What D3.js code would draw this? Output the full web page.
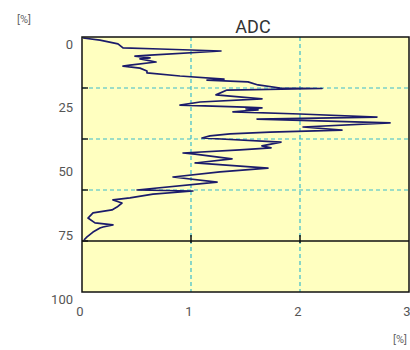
<!DOCTYPE html>
<html><head><meta charset="utf-8">
<script src="https://cdn.jsdelivr.net/npm/d3@7"></script>
<style>body{margin:0;background:#fff;}svg{display:block;font-family:Roboto,"Liberation Sans",sans-serif;}</style>
</head><body><svg id="c" width="410" height="350"></svg>
<script>
const title = "ADC";
const unitLabel = "[%]";
const xTicks = [0, 1, 2, 3];
const yTicks = [0, 25, 50, 75, 100];
const xGrid = [1, 2];
const yGrid = [20, 40, 60];
const refDepth = 80;
const adc = [0.01,0.165,0.33,0.376,0.716,1.275,0.624,0.486,0.624,0.532,0.679,0.44,0.376,0.532,0.596,0.596,0.899,1.303,1.147,1.358,1.523,1.615,1.817,2.202,1.33,1.229,1.651,1.083,0.899,1.495,1.651,1.505,1.615,1.385,2.0,2.706,1.606,2.826,2.028,2.385,1.725,1.358,1.174,1.101,1.826,1.651,1.734,1.45,0.927,1.037,1.376,1.037,1.706,1.266,0.835,1.239,0.505,1.018,0.651,0.44,0.284,0.367,0.321,0.275,0.101,0.055,0.119,0.284,0.193,0.165,0.101,0.046,0.018];
const depth = [0.4,1.2,2.7,4.3,4.7,5.5,7.1,7.5,8.2,8.6,9.8,11.0,11.4,12.2,13.3,14.1,15.3,16.5,16.9,17.3,17.6,18.8,20.0,20.2,20.8,22.7,24.3,25.5,26.7,27.5,27.8,28.2,28.6,29.4,30.2,31.4,32.2,33.7,35.3,36.5,37.3,38.0,38.8,39.6,41.2,42.7,43.5,44.3,45.5,45.9,47.8,49.4,51.4,52.9,54.9,56.9,60.0,60.4,61.6,63.1,63.9,65.1,66.7,67.8,69.0,71.0,72.9,73.7,74.5,74.9,76.5,78.4,79.6];

const L = 82, R = 409, T = 37, B = 292;
const x = d3.scaleLinear().domain([0, 3]).range([L, R]);
const y = d3.scaleLinear().domain([0, 100]).range([T, B]);
const svg = d3.select("#c");

svg.append("rect").attr("x", L).attr("y", T).attr("width", R - L).attr("height", B - T)
  .attr("fill", "#ffffc0");

// grid
svg.selectAll(".gx").data(xGrid).enter().append("line")
  .attr("x1", d => x(d)).attr("x2", d => x(d)).attr("y1", T).attr("y2", B)
  .attr("stroke", "#3bbccc").attr("stroke-width", 1.2).attr("stroke-dasharray", "4,3");
svg.selectAll(".gy").data(yGrid).enter().append("line")
  .attr("x1", L).attr("x2", R).attr("y1", d => y(d)).attr("y2", d => y(d))
  .attr("stroke", "#3bbccc").attr("stroke-width", 1.2).attr("stroke-dasharray", "4,3");
// left ticks on grid lines
svg.selectAll(".ty").data(yGrid.concat([refDepth])).enter().append("line")
  .attr("x1", L).attr("x2", L + 6).attr("y1", d => y(d)).attr("y2", d => y(d))
  .attr("stroke", "#222").attr("stroke-width", 1.5);
// reference line
svg.append("line").attr("x1", L).attr("x2", R).attr("y1", y(refDepth)).attr("y2", y(refDepth))
  .attr("stroke", "#111").attr("stroke-width", 1.3);
svg.selectAll(".tx").data(xGrid).enter().append("line")
  .attr("x1", d => x(d)).attr("x2", d => x(d)).attr("y1", y(refDepth) - 6).attr("y2", y(refDepth) + 2)
  .attr("stroke", "#111").attr("stroke-width", 1.5);

// data line
const line = d3.line().x(d => x(d[0])).y(d => y(d[1]));
svg.append("path").datum(adc.map((v, i) => [v, depth[i]]))
  .attr("d", line).attr("fill", "none").attr("stroke", "#1b1b6a")
  .attr("stroke-width", 1.7).attr("stroke-linejoin", "round");

// frame
svg.append("rect").attr("x", L).attr("y", T).attr("width", R - L).attr("height", B - T)
  .attr("fill", "none").attr("stroke", "#111").attr("stroke-width", 1.5);

// axis labels
svg.selectAll(".yl").data(yTicks).enter().append("text")
  .attr("x", 73).attr("y", d => y(d) + 7).attr("dy", "0.35em")
  .attr("text-anchor", "end").attr("font-size", 13).attr("fill", "#555").text(d => d);
svg.selectAll(".xl").data(xTicks).enter().append("text")
  .attr("x", d => x(d) - 2).attr("y", 311).attr("dy", "0.35em")
  .attr("text-anchor", "middle").attr("font-size", 13).attr("fill", "#555").text(d => d);

svg.append("text").attr("x", 24).attr("y", 19).attr("dy", "0.35em").attr("text-anchor", "middle")
  .attr("font-size", 11).attr("fill", "#666").text(unitLabel);
svg.append("text").attr("x", 400).attr("y", 339).attr("dy", "0.35em").attr("text-anchor", "middle")
  .attr("font-size", 11).attr("fill", "#666").text(unitLabel);
svg.append("text").attr("x", 253).attr("y", 33).attr("text-anchor", "middle")
  .attr("font-size", 18).attr("fill", "#333").text(title);
</script></body></html>
